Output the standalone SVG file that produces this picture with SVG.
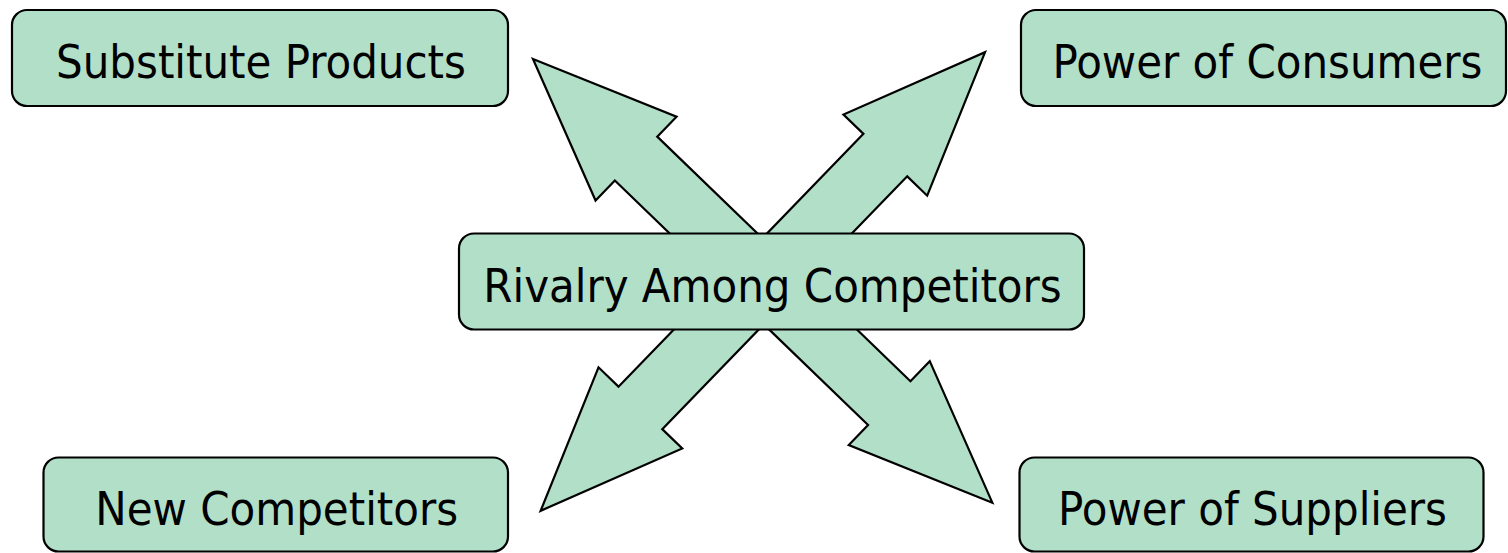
<svg xmlns="http://www.w3.org/2000/svg" width="1508" height="553" viewBox="0 0 1508 553">
<style>
.box{fill:#b2dfc8;stroke:#000;stroke-width:2.2}
.arrow{fill:#b2dfc8;stroke:#000;stroke-width:2.2;stroke-linejoin:miter}
.lbl{font-family:"DejaVu Sans Condensed","Liberation Sans",sans-serif;font-size:46.7px;fill:#000;text-anchor:middle}
</style>
<defs>
<polygon id="dbl" points="-319.3,0 -176,-58.3 -176,-30.5 176,-30.5 176,-58.3 319.3,0 176,58.3 176,30.5 -176,30.5 -176,58.3"/>
</defs>
<rect width="1508" height="553" fill="#fff"/>
<g id="connectors">
<use href="#dbl" class="arrow" transform="translate(762.65,280.85) rotate(44)"/>
<use href="#dbl" class="arrow" transform="translate(762.85,281.5) rotate(134.1)"/>
</g>
<g id="substitute">
<rect class="box" x="12" y="10" width="496" height="96" rx="15"/>
<text class="lbl" x="261" y="78">Substitute Products</text>
</g>
<g id="consumers">
<rect class="box" x="1021" y="10" width="485" height="96" rx="15"/>
<text class="lbl" x="1267.5" y="78">Power of Consumers</text>
</g>
<g id="rivalry">
<rect class="box" x="459" y="233.5" width="625" height="96" rx="15"/>
<text class="lbl" x="772.5" y="302">Rivalry Among Competitors</text>
</g>
<g id="new">
<rect class="box" x="43.5" y="457.5" width="464.5" height="94" rx="15"/>
<text class="lbl" x="276.7" y="524.5">New Competitors</text>
</g>
<g id="suppliers">
<rect class="box" x="1019.5" y="457.5" width="464" height="94" rx="15"/>
<text class="lbl" x="1252.5" y="524.5">Power of Suppliers</text>
</g>
</svg>
